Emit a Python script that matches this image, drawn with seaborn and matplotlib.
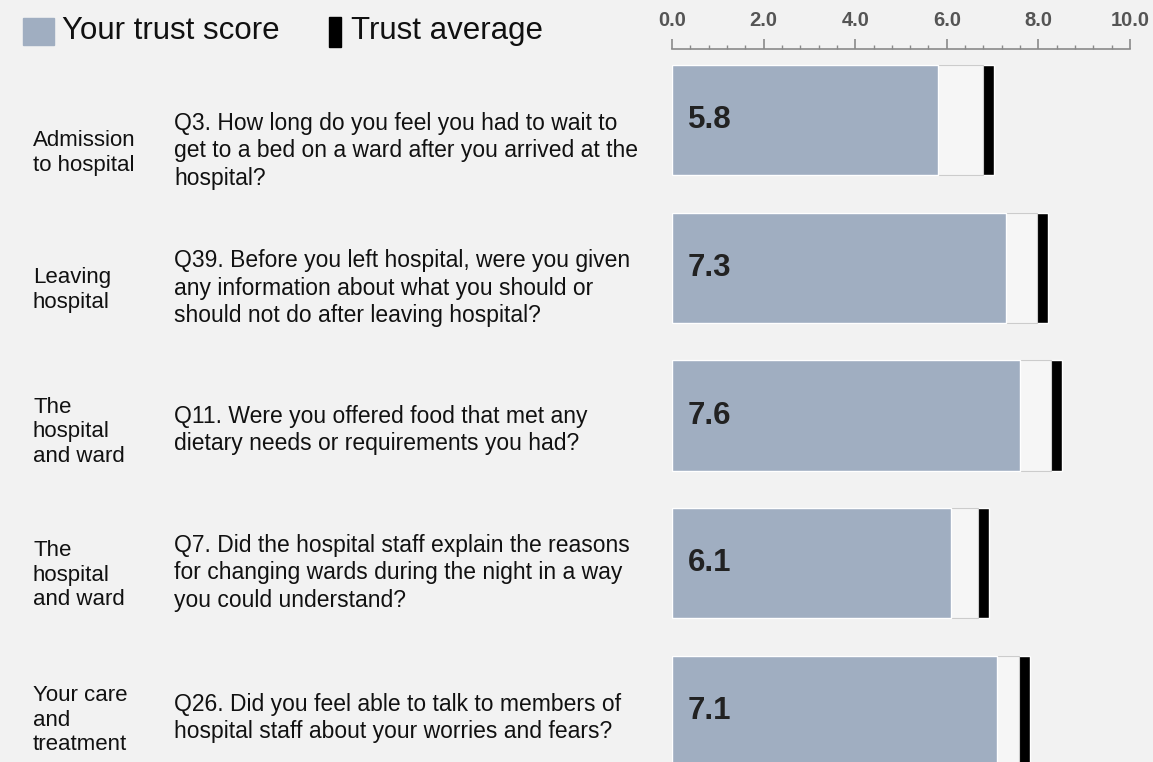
import numpy as np
import pandas as pd
import seaborn as sns
import matplotlib.pyplot as plt
from matplotlib.patches import Rectangle
from matplotlib.ticker import MultipleLocator, FormatStrFormatter

# data
question_ids = ["Q3", "Q39", "Q11", "Q7", "Q26"]
sections = [
    "Admission\nto hospital",
    "Leaving\nhospital",
    "The\nhospital\nand ward",
    "The\nhospital\nand ward",
    "Your care\nand\ntreatment",
]
questions = [
    "Q3. How long do you feel you had to wait to\nget to a bed on a ward after you arrived at the\nhospital?",
    "Q39. Before you left hospital, were you given\nany information about what you should or\nshould not do after leaving hospital?",
    "Q11. Were you offered food that met any\ndietary needs or requirements you had?",
    "Q7. Did the hospital staff explain the reasons\nfor changing wards during the night in a way\nyou could understand?",
    "Q26. Did you feel able to talk to members of\nhospital staff about your worries and fears?",
]
your_score = [5.8, 7.3, 7.6, 6.1, 7.1]
trust_avg = [6.9, 8.1, 8.4, 6.8, 7.7]

BG = "#f2f2f2"
BLUE = "#a0aec1"
W, H = 1153, 762
MARK = 0.12  # half width of the average marker

sns.set_theme(style="white")
plt.rcParams["font.family"] = ["Liberation Sans", "DejaVu Sans"]

df = pd.DataFrame({"q": question_ids, "score": your_score, "avg": trust_avg})
df["marker_end"] = df["avg"] + MARK
df["white_end"] = df["avg"] - MARK

fig = plt.figure(figsize=(W / 100, H / 100), dpi=100)
fig.patch.set_facecolor(BG)

ax_top = 49
ax = fig.add_axes([672 / W, 0, 458 / W, 1 - ax_top / H])
ax.set_facecolor(BG)

bar_h = 0.745
# layered bars: black marker, white gap to average, blue score
sns.barplot(data=df, x="marker_end", y="q", order=question_ids, orient="h",
            color="black", saturation=1, width=bar_h, errorbar=None, ax=ax)
sns.barplot(data=df, x="white_end", y="q", order=question_ids, orient="h",
            color="#f6f6f6", saturation=1, width=bar_h, errorbar=None, ax=ax,
            edgecolor="#cccccc", linewidth=0.8)
sns.barplot(data=df, x="score", y="q", order=question_ids, orient="h",
            color=BLUE, saturation=1, width=bar_h, errorbar=None, ax=ax)

for i, v in enumerate(your_score):
    ax.text(0.35, i, f"{v:.1f}", va="center", ha="left", fontsize=22.5,
            fontweight="bold", color="#222222")

row_px = 147.75
first_center = 120
ax.set_xlim(0, 10)
ax.set_ylim((H - first_center) / row_px, -(first_center - ax_top) / row_px)
ax.set_xlabel("")
ax.set_ylabel("")
ax.set_yticks([])

ax.xaxis.tick_top()
ax.xaxis.set_major_locator(MultipleLocator(2))
ax.xaxis.set_minor_locator(MultipleLocator(0.4))
ax.xaxis.set_major_formatter(FormatStrFormatter("%.1f"))
ax.tick_params(axis="x", which="major", top=True, bottom=False, length=7,
               width=1.2, color="#8a8a8a", pad=7, labelsize=14.5,
               labelcolor="#555555")
ax.tick_params(axis="x", which="minor", top=True, bottom=False, length=3,
               width=1, color="#8a8a8a")
for lab in ax.get_xticklabels():
    lab.set_fontweight("bold")
for s in ["left", "right", "bottom"]:
    ax.spines[s].set_visible(False)
ax.spines["top"].set_color("#8a8a8a")
ax.spines["top"].set_linewidth(1.2)

# left-hand text columns
text_y = [153, 290, 432, 575, 720]
for sec, q, y in zip(sections, questions, text_y):
    fig.text(33 / W, 1 - y / H, sec, ha="left", va="center", fontsize=16,
             color="#111111", linespacing=1.2)
    fig.text(174 / W, 1 - (y - 2) / H, q, ha="left", va="center", fontsize=16.5,
             color="#111111", linespacing=1.25)

# legend
def px_rect(x0, y0, x1, y1, color):
    fig.patches.append(Rectangle((x0 / W, 1 - y1 / H), (x1 - x0) / W, (y1 - y0) / H,
                                 transform=fig.transFigure, color=color))

px_rect(23, 18, 54, 45, BLUE)
px_rect(329, 17, 341, 47, "black")
fig.text(62 / W, 1 - 31 / H, "Your trust score", ha="left", va="center",
         fontsize=22.5, color="#111111")
fig.text(351 / W, 1 - 31 / H, "Trust average", ha="left", va="center",
         fontsize=22.5, color="#111111")

fig.savefig("out.png", dpi=100, facecolor=fig.get_facecolor())
